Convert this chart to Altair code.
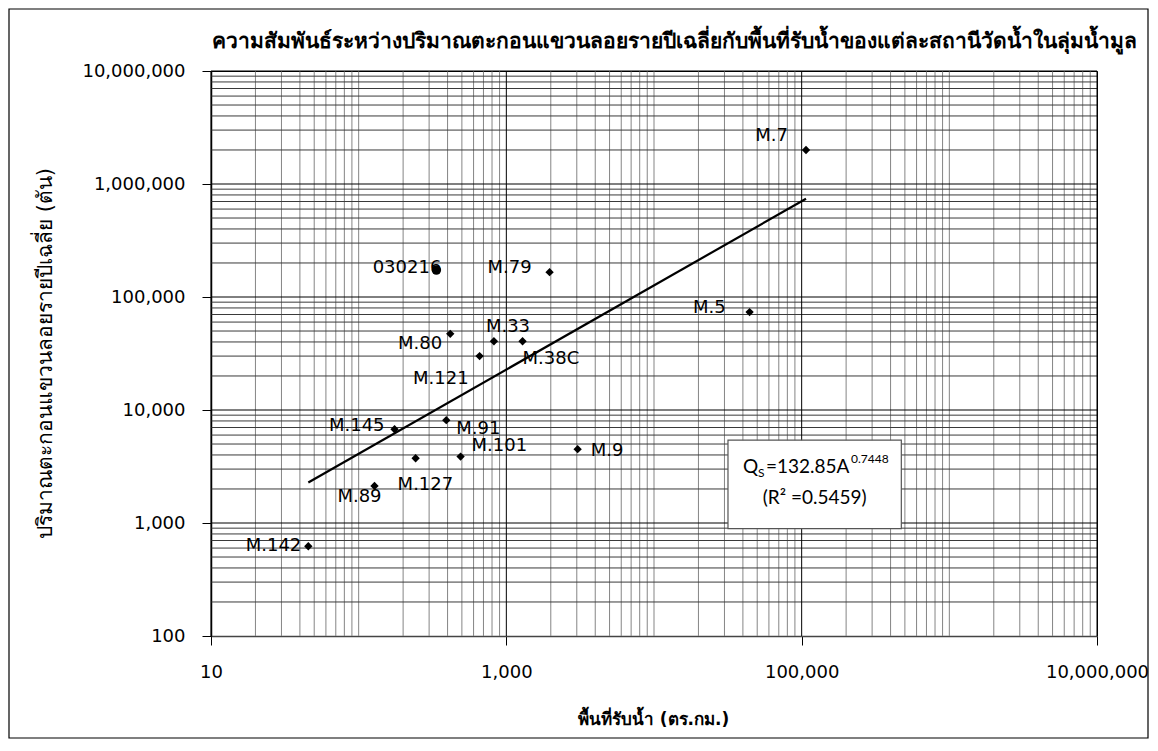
import altair as alt
import pandas as pd

# ---------------- data ----------------
stations = ["M.7", "030216", "M.79", "M.80", "M.33", "M.38C", "M.121", "M.145",
            "M.91", "M.127", "M.101", "M.89", "M.9", "M.5", "M.142"]
area_km2 = [107000, 336, 1963, 417, 824, 1288, 659, 175,
            392, 243, 490, 128, 3040, 44400, 45.6]
sediment_t = [2000000, 173000, 166000, 47200, 40600, 40600, 30000, 6760,
              8130, 3740, 3870, 2130, 4500, 73500, 622]
marker = ["diamond", "circle"] + ["diamond"] * 13

fit_coef = 132.85
fit_exp = 0.7448
fit_r2 = 0.5459

x_tick_values = [10, 1000, 100000, 10000000]
y_tick_values = [100, 1000, 10000, 100000, 1000000, 10000000]

title_text = "ความสัมพันธ์ระหว่างปริมาณตะกอนแขวนลอยรายปีเฉลี่ยกับพื้นที่รับน้ำของแต่ละสถานีวัดน้ำในลุ่มน้ำมูล"
x_title = "พื้นที่รับน้ำ (ตร.กม.)"
y_title = "ปริมาณตะกอนแขวนลอยรายปีเฉลี่ย (ตัน)"

# label placement (style, not data)
label_style = {
    "M.7": ("right", -18, -14), "030216": ("right", 5, -2), "M.79": ("right", -18, -4),
    "M.80": ("right", -8, 10), "M.33": ("left", -8, -14), "M.38C": ("left", 0, 18),
    "M.121": ("right", -11, 23), "M.145": ("right", -10, -3), "M.91": ("left", 10, 9),
    "M.127": ("left", -18, 27), "M.101": ("left", 11, -11), "M.89": ("center", -15, 11),
    "M.9": ("left", 13, 2), "M.5": ("right", -24, -4), "M.142": ("right", -7, 0),
}

W, H = 886, 565

pts = pd.DataFrame({"station": stations, "area": area_km2, "sed": sediment_t, "marker": marker})

# gridlines
x_major = x_tick_values
x_minor = [m * 10 ** e for e in range(1, 7) for m in range(1, 10) if m * 10 ** e not in x_major]
y_minor = [m * 10 ** e for e in range(2, 7) for m in range(2, 10)]
y_major = [1000, 10000, 100000, 1000000, 10000000]

xscale = alt.Scale(type="log", domain=[10, 10000000], nice=False)
yscale = alt.Scale(type="log", domain=[100, 10000000], nice=False)

xaxis = alt.Axis(values=x_tick_values, format=",.0f", grid=False, title=x_title,
                 tickSize=9, tickColor="black", domainColor="#444", domainWidth=1.5,
                 labelFont="DejaVu Sans", labelFontSize=18, labelPadding=18,
                 labelColor="black", labelFlush=False,
                 titleFont="DejaVu Sans", titleFontSize=17, titleFontWeight="bold",
                 titleColor="black", titleX=442, titleY=83, titleBaseline="middle")
yaxis = alt.Axis(values=y_tick_values, format=",.0f", grid=False, title=y_title,
                 tickSize=9, tickColor="black", domainColor="black", domainWidth=1.5,
                 labelFont="DejaVu Sans", labelFontSize=18, labelPadding=17,
                 labelColor="black", labelFlush=False,
                 titleFont="DejaVu Sans", titleFontSize=21, titleFontWeight="normal",
                 titleColor="black", titleX=-166, titleY=282, titleAngle=270,
                 titleBaseline="middle", titleAlign="center")


def X(field):
    return alt.X(field, type="quantitative", scale=xscale, axis=xaxis)


def Y(field):
    return alt.Y(field, type="quantitative", scale=yscale, axis=yaxis)


vminor = alt.Chart(pd.DataFrame({"v": x_minor})).mark_rule(color="#858585", strokeWidth=1).encode(x=X("v"))
hminor = alt.Chart(pd.DataFrame({"v": y_minor})).mark_rule(color="#3a3a3a", strokeWidth=1).encode(y=Y("v"))
hmajor = alt.Chart(pd.DataFrame({"v": y_major})).mark_rule(color="black", strokeWidth=1).encode(y=Y("v"))
vmajor = alt.Chart(pd.DataFrame({"v": x_major})).mark_rule(color="black", strokeWidth=1).encode(x=X("v"))

trend_df = pd.DataFrame({"area": [min(area_km2), max(area_km2)]})
trend = alt.Chart(trend_df).transform_calculate(
    sed=f"{fit_coef} * pow(datum.area, {fit_exp})"
).mark_line(color="black", strokeWidth=2.2).encode(x=X("area"), y=Y("sed"))

diamonds = alt.Chart(pts).transform_filter("datum.marker == 'diamond'").mark_point(
    shape="diamond", filled=True, color="black", size=70, opacity=1
).encode(x=X("area"), y=Y("sed"))
circles = alt.Chart(pts).transform_filter("datum.marker == 'circle'").mark_point(
    shape="circle", filled=True, color="black", size=90, opacity=1
).encode(x=X("area"), y=Y("sed"))

label_layers = []
for name, (al, dx, dy) in label_style.items():
    label_layers.append(
        alt.Chart(pts).transform_filter(alt.datum.station == name).mark_text(
            align=al, baseline="middle", dx=dx, dy=dy, font="DejaVu Sans",
            fontSize=18, color="black"
        ).encode(x=X("area"), y=Y("sed"), text="station:N")
    )

# annotation box with the fitted equation
box_x0, box_x1 = 31700, 473000
box_y0, box_y1 = 5410, 893
box_df = pd.DataFrame({"x0": [box_x0], "x1": [box_x1], "y0": [box_y0], "y1": [box_y1]})
box = alt.Chart(box_df).mark_rect(fill="white", stroke="#555", strokeWidth=1.2).encode(
    x=X("x0"), x2="x1", y=Y("y0"), y2="y1")

eq_df = pd.DataFrame({"x": [box_x0], "y1": [3133], "xc": [(box_x0 * box_x1) ** 0.5], "y2": [1656]})
eq_parts = [
    ("Q", 15, 0, 19),
    ("S", 30, 6, 12),
    (f"={fit_coef}A", 38, 0, 19),
    (f"{fit_exp}", 123, -8, 12),
]
eq_layers = []
for txt, dx, dy, fs in eq_parts:
    eq_layers.append(alt.Chart(eq_df).mark_text(
        text=txt, align="left", baseline="middle", dx=dx, dy=dy, font="Lato",
        fontSize=fs, color="black").encode(x=X("x"), y=Y("y1")))
eq_layers.append(alt.Chart(eq_df).mark_text(
    text=f"(R² ={fit_r2})", align="center", baseline="middle", font="Lato",
    fontSize=19, color="black").encode(x=X("xc"), y=Y("y2")))

title = alt.Chart(pd.DataFrame({"t": [title_text]})).mark_text(
    font="DejaVu Sans Condensed", fontSize=21, fontWeight="bold", color="black",
    align="center", baseline="middle"
).encode(x=alt.value(463), y=alt.value(-29), text="t:N")

frame = alt.Chart(pd.DataFrame({"a": [0]})).mark_rect(
    fill=None, stroke="black", strokeWidth=1.2
).encode(x=alt.value(-202), x2=alt.value(W + 51), y=alt.value(-62), y2=alt.value(H + 102))

chart = alt.layer(
    frame, vminor, hminor, hmajor, vmajor, trend, diamonds, circles, *label_layers,
    box, *eq_layers, title
).properties(
    width=W, height=H,
    autosize=alt.AutoSizeParams(type="none"),
    padding={"left": 203, "top": 63, "right": 53, "bottom": 104},
).configure_view(stroke="black", strokeWidth=1)

chart.save("out.html", embed_options={"renderer": "svg", "actions": False})
